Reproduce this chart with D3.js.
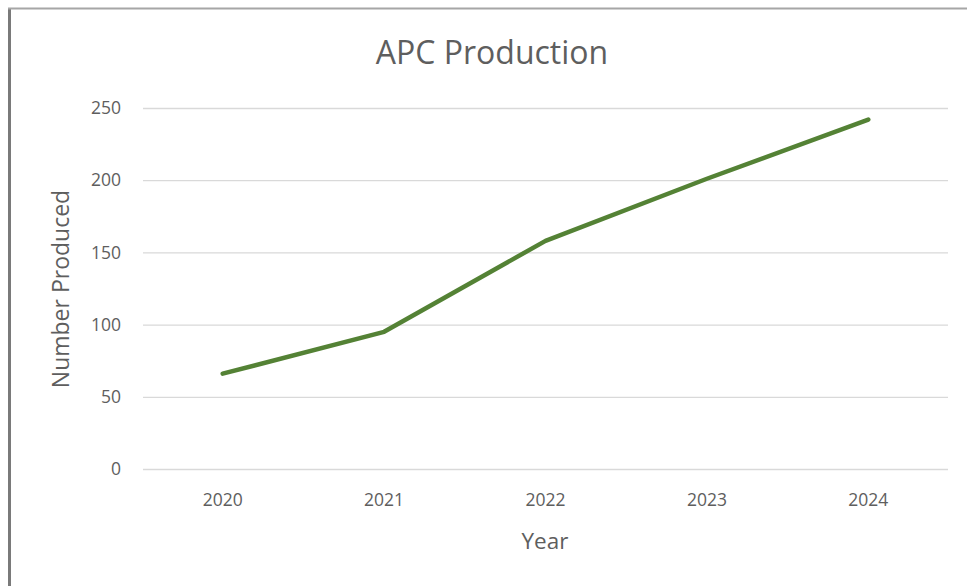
<!DOCTYPE html>
<html>
<style>
    body { margin: 0; background: #fff; }
    text { font-family: "Open Sans", "Liberation Sans", sans-serif; fill: #5e5e5e; }
    .grid line { stroke: #d9d9d9; stroke-width: 1.3px; }
    .grid path { display: none; }
</style>
<script src="https://d3js.org/d3.v7.min.js"></script>
<body>
<svg width="967" height="586"></svg>
<script>
    const years = ["2020", "2021", "2022", "2023", "2024"];
    const produced = [66, 95, 158, 201, 242];
    const yTicks = [0, 50, 100, 150, 200, 250];

    const svg = d3.select("svg");
    const plotLeft = 143, plotRight = 948, plotTop = 108, plotBottom = 469;

    // chart frame (only left and top edges visible in the crop)
    svg.append("line").attr("x1", 9.5).attr("x2", 9.5).attr("y1", 8).attr("y2", 586)
        .attr("stroke", "#7a7a7a").attr("stroke-width", 3);
    svg.append("line").attr("x1", 8).attr("x2", 967).attr("y1", 8.5).attr("y2", 8.5)
        .attr("stroke", "#a6a6a6").attr("stroke-width", 2);

    const x = d3.scaleBand().domain(years).range([plotLeft - 1, plotRight + 1]);
    const y = d3.scaleLinear().domain([0, 250]).range([plotBottom, plotTop]);

    // gridlines
    svg.append("g").attr("class", "grid")
        .attr("transform", `translate(${plotLeft},0)`)
        .call(d3.axisLeft(y).tickValues(yTicks).tickSize(-(plotRight - plotLeft)).tickFormat(""));

    // y tick labels
    svg.append("g").selectAll("text").data(yTicks).join("text")
        .attr("x", 121).attr("y", d => y(d)).attr("dy", "0.35em")
        .attr("text-anchor", "end").style("font-size", "17.5px")
        .text(d => d);

    // x tick labels
    svg.append("g").selectAll("text").data(years).join("text")
        .attr("x", d => x(d) + x.bandwidth() / 2).attr("y", 500).attr("dy", "0.35em")
        .attr("text-anchor", "middle").style("font-size", "17.5px")
        .text(d => d);

    // line
    const line = d3.line()
        .x((d, i) => x(years[i]) + x.bandwidth() / 2)
        .y(d => y(d));
    svg.append("path").datum(produced)
        .attr("fill", "none").attr("stroke", "#548235").attr("stroke-width", 4.5)
        .attr("stroke-linecap", "round").attr("stroke-linejoin", "round")
        .attr("d", line);

    // titles
    svg.append("text").attr("x", 492).attr("y", 53).attr("dy", "0.35em")
        .attr("text-anchor", "middle").style("font-size", "32px")
        .text("APC Production");
    svg.append("text").attr("x", 545).attr("y", 541).attr("dy", "0.35em")
        .attr("text-anchor", "middle").style("font-size", "22.5px")
        .text("Year");
    svg.append("text").attr("transform", "translate(61,289) rotate(-90)").attr("dy", "0.35em")
        .attr("text-anchor", "middle").style("font-size", "23px")
        .text("Number Produced");
</script>
</body>
</html>
